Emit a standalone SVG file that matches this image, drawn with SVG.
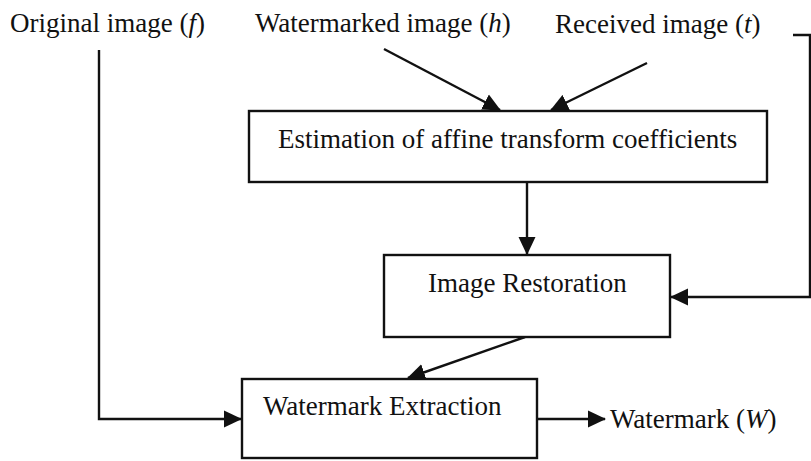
<svg xmlns="http://www.w3.org/2000/svg" width="811" height="461" viewBox="0 0 811 461">
<style>
text{font-family:"Liberation Serif","Times New Roman",serif;font-size:27px;fill:#111}
.box{fill:#fff;stroke:#111;stroke-width:2.4}
.ln{fill:none;stroke:#111;stroke-width:2.4}
</style>
<defs>
<marker id="ah" markerUnits="userSpaceOnUse" markerWidth="18" markerHeight="18" viewBox="0 0 18 18" refX="17" refY="9" orient="auto">
<path d="M0,0.5 L18,9 L0,17.5 Z" fill="#111"/>
</marker>
</defs>
<rect width="811" height="461" fill="#fff"/>
<g id="labels">
<text x="10" y="32">Original image (<tspan font-style="italic">f</tspan>)</text>
<text x="255" y="32">Watermarked image (<tspan font-style="italic">h</tspan>)</text>
<text x="555" y="33">Received image (<tspan font-style="italic">t</tspan>)</text>
<text x="610" y="428">Watermark (<tspan font-style="italic">W</tspan>)</text>
</g>
<g id="connectors">
<line class="ln" x1="384" y1="49" x2="500" y2="110" marker-end="url(#ah)"/>
<line class="ln" x1="647" y1="63" x2="551" y2="110" marker-end="url(#ah)"/>
<line class="ln" x1="527" y1="182" x2="527" y2="254" marker-end="url(#ah)"/>
<polyline class="ln" points="793,35 810,35 810,297 671,297" marker-end="url(#ah)"/>
<line class="ln" x1="525" y1="337" x2="408" y2="378" marker-end="url(#ah)"/>
<polyline class="ln" points="99,50 99,419 241,419" marker-end="url(#ah)"/>
<line class="ln" x1="537" y1="419" x2="605" y2="419" marker-end="url(#ah)"/>
</g>
<g id="estimation">
<rect class="box" x="249" y="111" width="518" height="71"/>
<text x="278" y="148">Estimation of affine transform coefficients</text>
</g>
<g id="restoration">
<rect class="box" x="384" y="255" width="286" height="82"/>
<text x="428" y="292">Image Restoration</text>
</g>
<g id="extraction">
<rect class="box" x="242" y="379" width="295" height="79"/>
<text x="263" y="415">Watermark Extraction</text>
</g>
</svg>
